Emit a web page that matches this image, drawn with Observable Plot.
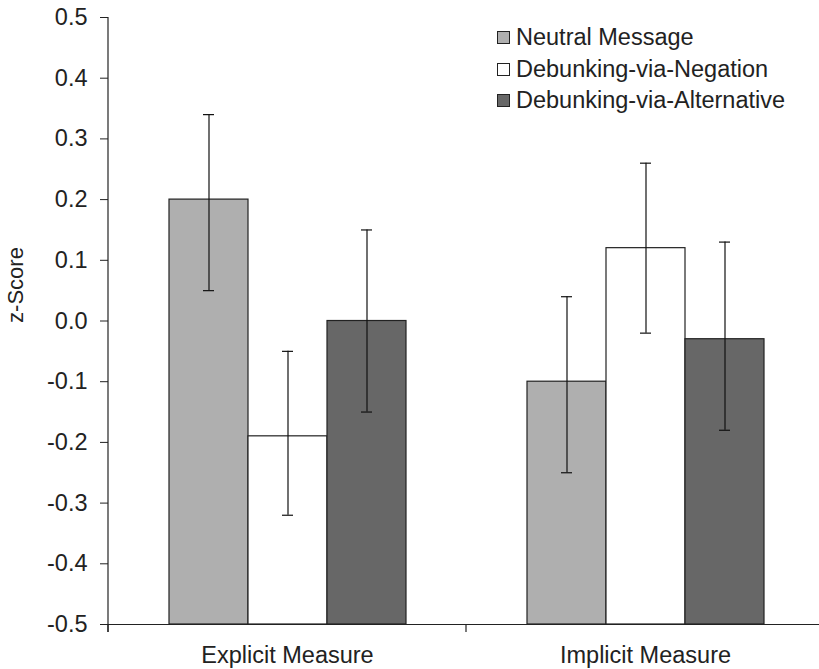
<!DOCTYPE html>
<html>
<head>
<meta charset="utf-8">
<script src="https://cdn.jsdelivr.net/npm/d3@7"></script>
<script src="https://cdn.jsdelivr.net/npm/@observablehq/plot@0.6"></script>
<style>
  body { margin: 0; background: #fff; }
  #wrap { position: relative; width: 819px; height: 669px; font-family: "Liberation Sans", Arial, sans-serif; color: #222; }
  #legend { position: absolute; left: 497px; top: 22px; font-size: 23.5px; }
  #legend .row { display: flex; align-items: center; height: 31.5px; }
  #legend .sw { width: 11px; height: 11px; border: 1.2px solid #222; margin-right: 6px; }
</style>
</head>
<body>
<div id="wrap"><div id="legend"></div></div>
<script>
const measures = ["Explicit Measure", "Implicit Measure"];
const conditions = ["Neutral Message", "Debunking-via-Negation", "Debunking-via-Alternative"];
const meanValues = [[0.20, -0.19, 0.00], [-0.10, 0.12, -0.03]];
const lowerValues = [[0.05, -0.32, -0.15], [-0.25, -0.02, -0.18]];
const upperValues = [[0.34, -0.05, 0.15], [0.04, 0.26, 0.13]];
const fillColors = ["#afafaf", "#ffffff", "#676767"];
const yTicks = [-0.5, -0.4, -0.3, -0.2, -0.1, 0.0, 0.1, 0.2, 0.3, 0.4, 0.5];
const yMin = -0.5, yMax = 0.5;

const data = [];
measures.forEach((m, i) => conditions.forEach((c, j) => {
  data.push({measure: m, condition: c, value: meanValues[i][j], lo: lowerValues[i][j], hi: upperValues[i][j]});
}));

const chart = Plot.plot({
  width: 819,
  height: 669,
  marginLeft: 108,
  marginRight: -5,
  marginTop: 17,
  marginBottom: 45,
  style: {fontFamily: "'Liberation Sans', Arial, sans-serif", fontSize: "23.5px", color: "#222", background: "white", overflow: "visible"},
  fx: {domain: measures, padding: 0, label: null},
  x: {domain: conditions, paddingInner: 0, paddingOuter: 0.753, axis: null},
  y: {domain: [yMin, yMax]},
  color: {domain: conditions, range: fillColors},
  marks: [
    Plot.barY(data, {fx: "measure", x: "condition", y1: () => yMin, y2: "value", fill: "condition", stroke: "#222", strokeWidth: 1.2}),
    Plot.ruleX(data, {fx: "measure", x: "condition", y1: "lo", y2: "hi", stroke: "#111", strokeWidth: 1.2}),
    Plot.tickY(data, {fx: "measure", x: "condition", y: "lo", stroke: "#111", strokeWidth: 1.2, insetLeft: 34, insetRight: 34}),
    Plot.tickY(data, {fx: "measure", x: "condition", y: "hi", stroke: "#111", strokeWidth: 1.2, insetLeft: 34, insetRight: 34}),
    Plot.ruleY([yMin], {stroke: "#222", strokeWidth: 1.2}),
    Plot.axisY({ticks: yTicks, tickFormat: d => d.toFixed(1), tickSize: 8, tickPadding: 13, label: null, fontSize: 23.5, stroke: "#222"}),
    Plot.axisFx({anchor: "bottom", tickSize: 0, tickPadding: 22, label: null, fontSize: 23.5})
  ]
});

const svg = d3.select(chart);
const fx = chart.scale("fx");
const y = chart.scale("y");
const y0 = y.apply(yMin), y1 = y.apply(yMax);
const left = fx.apply(measures[0]);
// y axis line
svg.append("line").attr("x1", left).attr("x2", left).attr("y1", y1).attr("y2", y0 + 8)
  .attr("stroke", "#222").attr("stroke-width", 1.2);
// category boundary ticks
measures.forEach(m => {
  const xb = fx.apply(m);
  svg.append("line").attr("x1", xb).attr("x2", xb).attr("y1", y0).attr("y2", y0 + 8)
    .attr("stroke", "#222").attr("stroke-width", 1.2);
});
// y label
svg.append("text").attr("transform", `translate(23,285) rotate(-90)`)
  .attr("text-anchor", "middle").attr("font-size", 22).attr("fill", "#222").text("z-Score");

document.getElementById("wrap").prepend(chart);

const legend = d3.select("#legend");
conditions.forEach((c, j) => {
  const row = legend.append("div").attr("class", "row");
  row.append("div").attr("class", "sw").style("background", fillColors[j]);
  row.append("span").text(c);
});
</script>
</body>
</html>
